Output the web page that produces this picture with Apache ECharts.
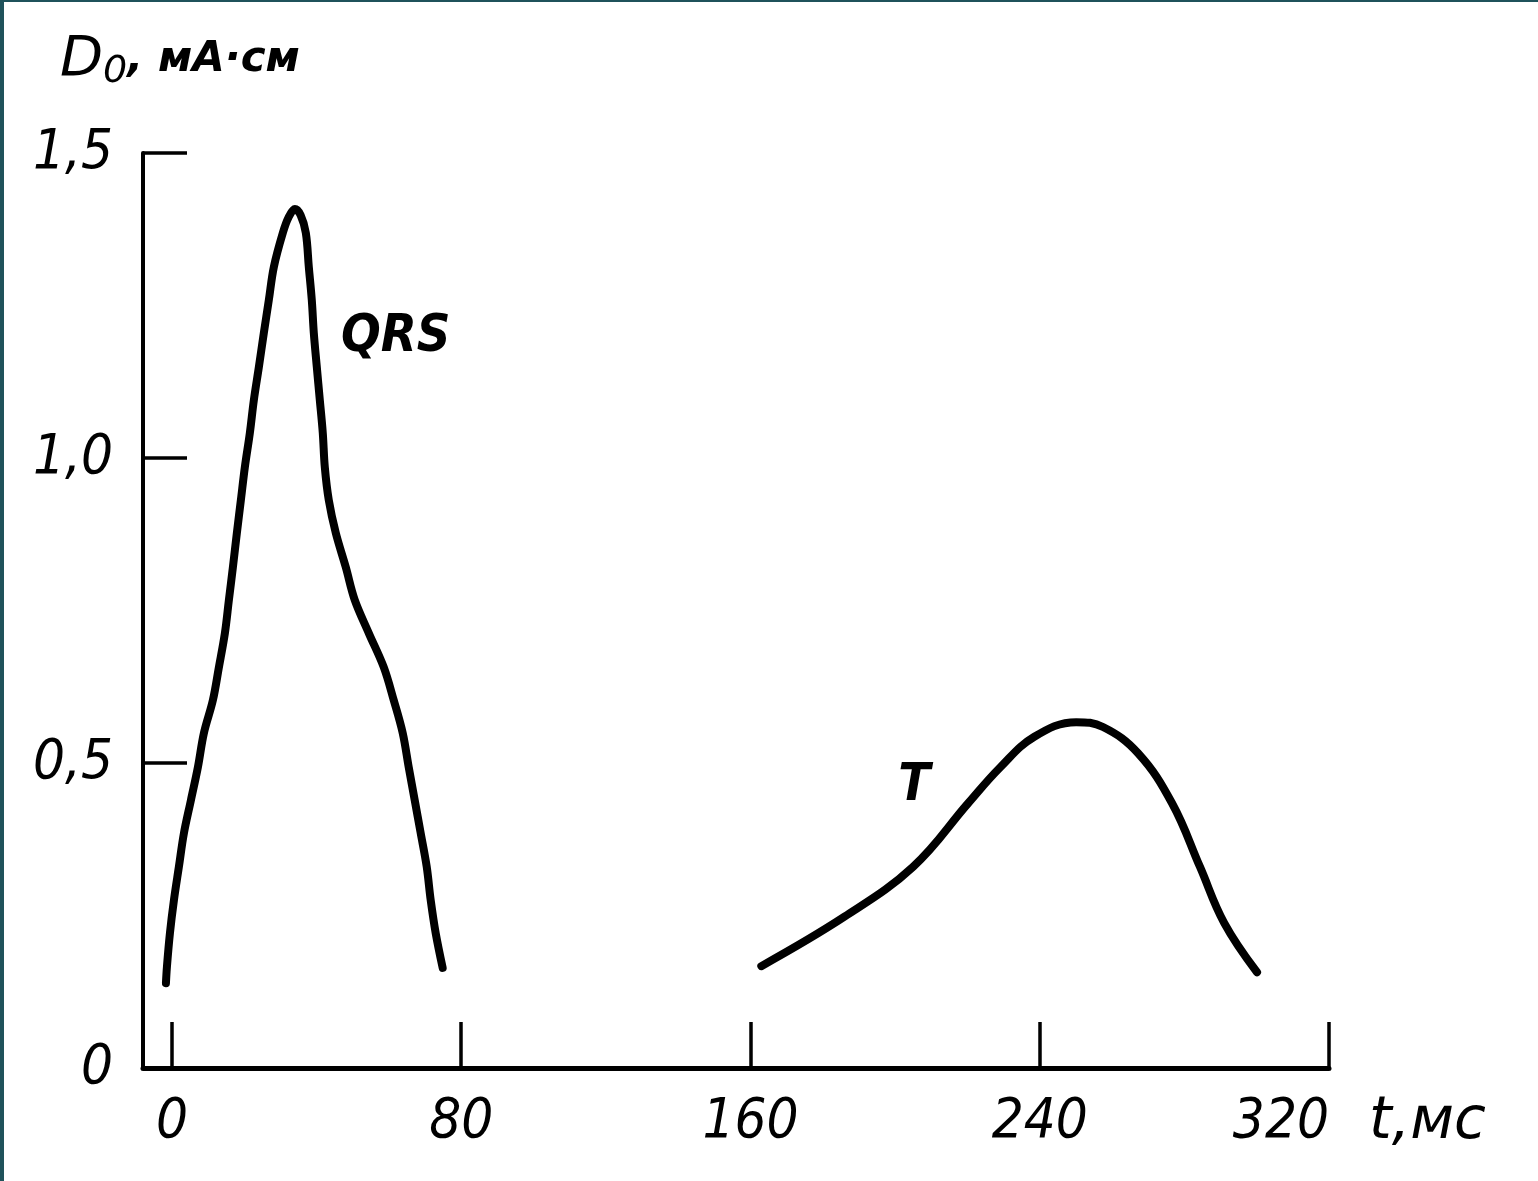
<!DOCTYPE html>
<html>
<head>
<meta charset="utf-8">
<script src="https://cdn.jsdelivr.net/npm/echarts@6/dist/echarts.min.js"></script>
<style>
  html, body { margin: 0; padding: 0; background: #1f525b; }
  #chart { position: absolute; left: 4px; top: 2px; width: 1534px; height: 1179px; background: #ffffff; }
</style>
</head>
<body>
<div id="chart"></div>
<script>
// ---- data (t in ms, D0 in mA·cm) ----
const qrsT = [-1.66, -1.38, -0.55, 0.55, 1.93, 3.32, 5.25, 7.18, 8.84, 11.33, 12.99, 14.65, 15.75, 16.86, 17.96, 19.07, 20.17, 21.55, 22.66, 24.04, 25.42, 26.80, 28.18, 30.67, 32.3, 34.0, 35.6, 37.03, 37.86, 38.68, 39.24, 40.07, 40.90, 41.72, 42.28, 43.38, 45.32, 48.08, 50.57, 54.44, 58.58, 61.34, 63.83, 65.49, 67.15, 68.80, 70.46, 71.57, 72.95, 74.88];
const qrsV = [0.139, 0.166, 0.221, 0.275, 0.330, 0.385, 0.439, 0.493, 0.549, 0.603, 0.657, 0.713, 0.767, 0.821, 0.877, 0.931, 0.985, 1.041, 1.095, 1.149, 1.205, 1.259, 1.313, 1.369, 1.395, 1.408, 1.398, 1.369, 1.313, 1.259, 1.205, 1.149, 1.095, 1.041, 0.985, 0.931, 0.877, 0.821, 0.767, 0.713, 0.657, 0.603, 0.549, 0.493, 0.439, 0.385, 0.330, 0.275, 0.221, 0.164];
const tT = [163.0, 186.0, 205.0, 220.2, 229.1, 238.5, 250.1, 257.5, 267.2, 276.6, 284.3, 291.0, 300.1];
const tV = [0.167, 0.248, 0.330, 0.434, 0.493, 0.543, 0.567, 0.559, 0.516, 0.434, 0.330, 0.238, 0.157];
const xTicks = [0, 80, 160, 240, 320];
const yTicks = [0, 0.5, 1.0, 1.5];
const qrsLabel = { text: 'QRS', t: 61.9, v: 1.198 };
const tLabel = { text: 'T', t: 205.3, v: 0.461 };

const FONT = "'Liberation Sans Narrow', 'DejaVu Sans Condensed', 'Roboto Condensed', sans-serif";
const FONT2 = "'DejaVu Sans', 'Liberation Sans', sans-serif";

const zip = (a, b) => a.map((x, i) => [x, b[i]]);

const chart = echarts.init(document.getElementById('chart'), null, { renderer: 'canvas' });
const annot = (l) => ({
  coord: [l.t, l.v],
  symbol: 'circle',
  symbolSize: 0,
  label: {
    show: true, position: 'inside', formatter: l.text,
    fontFamily: FONT, fontStyle: 'italic', fontWeight: 'bold', fontSize: 52, color: '#000'
  }
});
chart.setOption({
  animation: false,
  backgroundColor: '#ffffff',
  grid: { left: 139, right: 209, top: 151, bottom: 113, containLabel: false },
  xAxis: {
    type: 'value', min: -8, max: 320,
    axisLine: { show: true, onZero: false, lineStyle: { color: '#000', width: 5 } },
    axisTick: { show: true, inside: true, length: 46, customValues: xTicks, lineStyle: { color: '#000', width: 3.5 } },
    axisLabel: { show: true, customValues: xTicks, margin: 26, fontFamily: FONT, fontStyle: 'italic', fontSize: 56, color: '#000',
      alignMaxLabel: 'right' },
    splitLine: { show: false },
    name: 't,мс', nameLocation: 'end', nameGap: 40,
    nameTextStyle: { fontFamily: FONT2, fontStyle: 'italic', fontSize: 58, color: '#000', verticalAlign: 'top', align: 'left', padding: [26, 0, 0, 0] }
  },
  yAxis: {
    type: 'value', min: 0, max: 1.5, interval: 0.5,
    axisLine: { show: true, onZero: false, lineStyle: { color: '#000', width: 4 } },
    axisTick: { show: true, inside: true, length: 44, lineStyle: { color: '#000', width: 3.5 } },
    axisLabel: { show: true, margin: 30, fontFamily: FONT, fontStyle: 'italic', fontSize: 56, color: '#000',
      formatter: v => (v === 0 ? '0' : v.toFixed(1).replace('.', ',')) },
    splitLine: { show: false }
  },
  graphic: [{
    type: 'text', left: 56, top: 30,
    style: {
      text: '{d|D}{s|0}{n|, мА·см}',
      rich: {
        d: { fontFamily: FONT2, fontStyle: 'italic', fontSize: 56, fill: '#000' },
        s: { fontFamily: FONT2, fontStyle: 'italic', fontSize: 38, fill: '#000', padding: [24, 0, 0, 0] },
        n: { fontFamily: FONT2, fontStyle: 'italic', fontWeight: 'bold', fontSize: 42, fill: '#000' }
      }
    }
  }],
  series: [
    {
      name: 'QRS', type: 'line', data: zip(qrsT, qrsV), smooth: 0.35, showSymbol: false,
      lineStyle: { color: '#000', width: 8, cap: 'round', join: 'round' },
      markPoint: { silent: true, data: [annot(qrsLabel)] }
    },
    {
      name: 'T', type: 'line', data: zip(tT, tV), smooth: 0.4, showSymbol: false,
      lineStyle: { color: '#000', width: 8, cap: 'round', join: 'round' },
      markPoint: { silent: true, data: [annot(tLabel)] }
    }
  ]
});
</script>
</body>
</html>
